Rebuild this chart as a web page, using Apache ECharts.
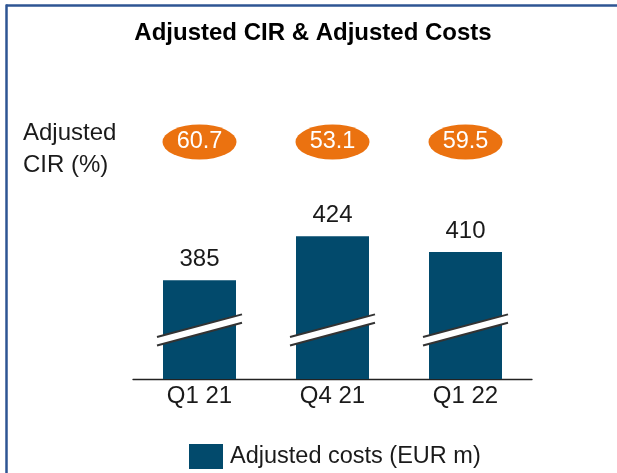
<!DOCTYPE html>
<html>
<head>
<meta charset="utf-8">
<script src="https://cdn.jsdelivr.net/npm/echarts@6/dist/echarts.min.js"></script>
<style>
html,body{margin:0;padding:0;background:#fff;}
#chart{width:617px;height:473px;}
</style>
</head>
<body>
<div id="chart"></div>
<script>
// ---- data ----
const categories = ['Q1 21', 'Q4 21', 'Q1 22'];
const adjustedCosts = [385, 424, 410];
const adjustedCIR = [60.7, 53.1, 59.5];
const titleText = 'Adjusted CIR & Adjusted Costs';
const cirLabel = 'Adjusted\nCIR (%)';
const costsName = 'Adjusted costs (EUR m)';
const axisMin = 297.5;
const axisMax = 544.8;
const breakValue = 341;

const BAR = '#024a6c';
const ORANGE = '#eb7210';
const BORDER = '#2e5593';
const FONT = '"Liberation Sans", Arial, sans-serif';

const chart = echarts.init(document.getElementById('chart'), null, {renderer: 'canvas'});

const option = {
  backgroundColor: '#fff',
  animation: false,
  textStyle: {fontFamily: FONT},
  title: {
    text: titleText,
    left: 313,
    top: 16,
    textAlign: 'center',
    textStyle: {fontFamily: FONT, fontSize: 24, fontWeight: 'bold', color: '#000'}
  },
  legend: {
    data: [costsName],
    left: 184,
    top: 439,
    itemWidth: 34,
    itemHeight: 25,
    itemGap: 10,
    textStyle: {fontFamily: FONT, fontSize: 23.5, color: '#1a1a1a', padding: [0, 0, 0, 2]},
    icon: 'rect'
  },
  graphic: [
    {type: 'line', silent: true, shape: {x1: 6, y1: 5.5, x2: 617, y2: 5.5}, style: {stroke: BORDER, lineWidth: 2.5}},
    {type: 'line', silent: true, shape: {x1: 6.5, y1: 4.5, x2: 6.5, y2: 473}, style: {stroke: BORDER, lineWidth: 2.5}},
    {
      type: 'text', left: 23, top: 117,
      style: {text: cirLabel, fontFamily: FONT, fontSize: 24, lineHeight: 32, fill: '#1a1a1a'}
    }
  ],
  grid: [
    {left: 133, width: 399, top: 100, bottom: 94},
    {left: 133, width: 399, top: 124, height: 36}
  ],
  xAxis: [
    {
      type: 'category', gridIndex: 0, data: categories,
      axisLine: {lineStyle: {color: '#222', width: 1.3}},
      axisTick: {show: false},
      axisLabel: {fontFamily: FONT, fontSize: 24, color: '#1a1a1a', margin: 5}
    },
    {
      type: 'category', gridIndex: 1, data: categories,
      axisLine: {show: false}, axisTick: {show: false}, axisLabel: {show: false}
    }
  ],
  yAxis: [
    {type: 'value', gridIndex: 0, min: axisMin, max: axisMax, show: false, splitLine: {show: false}},
    {type: 'value', gridIndex: 1, min: -1, max: 1, show: false, splitLine: {show: false}}
  ],
  series: [
    {
      name: costsName,
      type: 'bar',
      xAxisIndex: 0, yAxisIndex: 0,
      data: adjustedCosts,
      barWidth: 73,
      itemStyle: {color: BAR},
      label: {
        show: true, position: 'top', distance: 9,
        fontFamily: FONT, fontSize: 24, color: '#1a1a1a'
      }
    },
    {
      name: 'break',
      type: 'custom',
      xAxisIndex: 0, yAxisIndex: 0,
      silent: true,
      z: 5,
      data: categories.map((c, i) => [i, breakValue]),
      renderItem: function (params, api) {
        const p = api.coord([api.value(0), api.value(1)]);
        const bw = api.size([1, 0])[0] * 0.5489;
        const half = bw / 2 + 6;
        const slope = 0.267;
        const th = 8.4;
        const xl = p[0] - half, xr = p[0] + half;
        const ytl = p[1] + slope * half - th / 2;
        const ytr = p[1] - slope * half - th / 2;
        const ybl = ytl + th, ybr = ytr + th;
        return {
          type: 'group',
          children: [
            {type: 'polygon', shape: {points: [[xl, ytl], [xr, ytr], [xr, ybr], [xl, ybl]]}, style: {fill: '#fff'}},
            {type: 'line', shape: {x1: xl, y1: ytl, x2: xr, y2: ytr}, style: {stroke: '#333', lineWidth: 2}},
            {type: 'line', shape: {x1: xl, y1: ybl, x2: xr, y2: ybr}, style: {stroke: '#333', lineWidth: 2}}
          ]
        };
      }
    },
    {
      name: 'CIR',
      type: 'scatter',
      xAxisIndex: 1, yAxisIndex: 1,
      data: adjustedCIR.map((v, i) => ({value: [i, 0], cir: v})),
      symbol: 'circle',
      symbolSize: [74, 35],
      itemStyle: {color: ORANGE, opacity: 1},
      label: {
        show: true, position: 'inside',
        formatter: p => adjustedCIR[p.dataIndex].toFixed(1),
        fontFamily: FONT, fontSize: 23.5, color: '#fff'
      }
    }
  ]
};
option.title.left = 308;
chart.setOption(option);
</script>
</body>
</html>
